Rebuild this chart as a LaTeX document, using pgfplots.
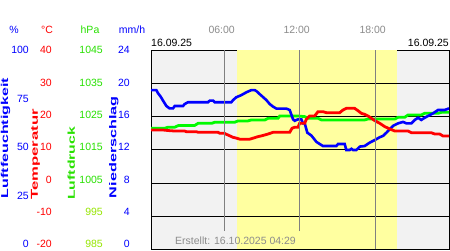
\documentclass[border=0pt]{standalone}
\usepackage{pgfplots}
\pgfplotsset{compat=1.18}
\usepackage{graphicx}
\usepackage{fontspec}
\setmainfont{Liberation Sans}
\definecolor{pgreen}{RGB}{40,225,0}
\definecolor{lgreen}{RGB}{0,250,0}
\definecolor{pyg}{RGB}{150,230,0}
\definecolor{bggray}{RGB}{242,242,242}
\definecolor{dayyel}{RGB}{255,255,160}
\definecolor{tgray}{RGB}{140,140,140}
\definecolor{lgray}{RGB}{128,128,128}
\newcommand{\lbl}{\fontsize{10.5}{12}\selectfont}
\newcommand{\rlbl}[2]{\scalebox{#1}[1]{\fontsize{10}{12}\selectfont\bfseries #2}}
\begin{document}
\begin{tikzpicture}[x=1pt,y=1pt]
\path[fill=white,use as bounding box] (0,0) rectangle (450,250);
% ---------- background, day band, frame (temperature units)
\begin{axis}[at={(151pt,0.7pt)},anchor=south west,width=298pt,height=199pt,scale only axis,
  xmin=0,xmax=24,ymin=-20,ymax=40,xtick=\empty,ytick=\empty,
  axis background/.style={fill=bggray},axis line style={black,line width=0.9pt}]
  \fill[dayyel] (axis cs:6.9,-20) rectangle (axis cs:19.79,40);
\end{axis}
% ---------- grid + pressure
\begin{axis}[at={(151pt,0.7pt)},anchor=south west,width=298pt,height=199pt,scale only axis,
  xmin=0,xmax=24,ymin=985,ymax=1045,xtick=\empty,ytick={995,1005,1015,1025,1035},
  yticklabels={},major tick length=0pt,ymajorgrids,grid style={black,line width=0.9pt},
  axis line style={draw=none}]
  \addplot[lgreen,line width=2.8pt] coordinates {
  (0,1021.5)(1.1,1021.5)(1.37,1021.8)(1.9,1021.8)(2.2,1022.3)(3.5,1022.3)(3.8,1023.0)
  (4.9,1023.0)(5.13,1023.3)(6.74,1023.3)(7.0,1023.7)(7.8,1023.7)(8.08,1024.0)(9.16,1024.0)
  (9.43,1024.5)(10.23,1024.5)(10.37,1025.2)(11.84,1025.2)(12.38,1025.0)(12.65,1024.5)
  (13.45,1024.5)(13.72,1024.0)(17.21,1024.0)(17.48,1024.3)(19.63,1024.3)(19.9,1024.8)
  (20.43,1024.8)(20.7,1025.5)(21.77,1025.5)(22.04,1026.0)(23.12,1026.0)(23.39,1026.3)(24,1026.3)};
\end{axis}
% ---------- humidity
\begin{axis}[at={(151pt,0.7pt)},anchor=south west,width=298pt,height=199pt,scale only axis,
  xmin=0,xmax=24,ymin=0,ymax=100,hide axis]
  \addplot[blue,line width=2.6pt] coordinates {
  (0,80)(0.43,80)(0.57,78.4)(0.78,76.7)(0.97,74.7)(1.24,72)(1.5,70.8)(1.77,70.8)(1.91,72)
  (2.58,72)(2.71,73)(2.98,73.9)(4.59,73.9)(4.73,74.7)(5.0,74.7)(5.13,73.9)(6.47,73.9)
  (6.61,75)(6.87,76.4)(7.28,77.5)(7.68,78.9)(8.08,80)(8.35,80)(8.49,79.5)(8.75,78)(9.02,76.5)
  (9.29,75)(9.56,73)(9.83,71.7)(10.1,70.7)(10.9,70.7)(11.17,70)(11.44,65.3)(11.57,64.6)
  (11.84,65.3)(12.11,65.3)(12.24,63.3)(12.38,63.3)(12.59,58.6)(12.91,57.2)(13.32,54)
  (13.59,52.9)(13.85,51.9)(14.93,51.9)(15.06,52.9)(15.6,52.9)(15.73,49.9)(16.0,49.9)
  (16.14,50.5)(16.27,49.9)(16.54,49.9)(16.81,51.6)(17.21,51.9)(17.61,53.6)(18.02,54.9)
  (18.42,56.3)(18.69,57)(18.96,58.6)(19.22,60.3)(19.49,62)(19.9,63.3)(20.3,64)(20.57,63.3)
  (20.97,63.3)(21.24,65)(21.51,66.1)(21.77,65)(22.04,66.1)(22.31,67)(22.71,68.3)(23.12,70)
  (23.65,70)(24,70.8)};
\end{axis}
% ---------- temperature + hour lines
\begin{axis}[at={(151pt,0.7pt)},anchor=south west,width=298pt,height=199pt,scale only axis,
  xmin=0,xmax=24,ymin=-20,ymax=40,hide axis]
  \addplot[red,line width=2.8pt] coordinates {
  (0,16.0)(0.9,16.0)(1.4,15.8)(1.9,15.67)(2.7,15.67)(2.85,15.46)(3.65,15.46)(3.8,15.27)
  (5.4,15.27)(5.55,14.97)(5.9,14.97)(6.2,14.46)(6.6,13.77)(6.9,13.5)(7.15,13.2)(7.95,13.2)
  (8.22,13.5)(8.6,13.95)(9.0,14.3)(9.43,14.76)(9.83,15.27)(11.17,15.27)(11.36,16.5)
  (11.57,16.8)(11.84,16.8)(11.97,18.0)(12.38,18.0)(12.51,19.2)(12.78,20.2)(13.18,20.2)
  (13.45,21.5)(13.85,21.5)(14.12,21.2)(15.2,21.2)(15.46,22.0)(15.73,22.5)(16.4,22.5)
  (16.67,21.8)(16.94,21.0)(17.21,20.7)(17.48,20.2)(17.75,19.5)(18.02,18.8)(18.42,18.0)
  (18.82,17.0)(19.22,16.3)(19.63,15.67)(20.7,15.67)(20.97,15.15)(22.58,15.15)(22.85,14.76)
  (23.25,14.76)(23.52,14.16)(24,14.16)};
  \draw[lgray,line width=1.1pt] (axis cs:5.9,-14.5) -- (axis cs:5.9,40);
  \draw[lgray,line width=1.1pt] (axis cs:11.95,-14.5) -- (axis cs:11.95,40);
  \draw[lgray,line width=1.1pt] (axis cs:18.05,-20) -- (axis cs:18.05,40);
\end{axis}
% ---------- tick label columns
\begin{axis}[at={(151pt,199.7pt)},anchor=north west,width=298pt,height=193.7pt,scale only axis,
  xmin=0,xmax=24,ymin=0,ymax=100,xtick=\empty,ytick={0,25,50,75,100},
  yticklabels={0,25,50,75,100},major tick length=0pt,axis line style={draw=none},
  yticklabel style={anchor=east,inner sep=0pt,xshift=-122pt,text=blue,font=\lbl}]
\end{axis}
\begin{axis}[at={(151pt,199.7pt)},anchor=north west,width=298pt,height=193.7pt,scale only axis,
  xmin=0,xmax=24,ymin=-20,ymax=40,xtick=\empty,ytick={-20,-10,0,10,20,30,40},
  yticklabels={-20,-10,0,10,20,30,40},major tick length=0pt,axis line style={draw=none},
  yticklabel style={anchor=east,inner sep=0pt,xshift=-99pt,text=red,font=\lbl}]
\end{axis}
\begin{axis}[at={(151pt,199.7pt)},anchor=north west,width=298pt,height=193.7pt,scale only axis,
  xmin=0,xmax=24,ymin=985,ymax=1045,xtick=\empty,ytick={985,995,1005,1015,1025,1035,1045},
  yticklabels={{\color{pyg}985},{\color{pyg}995},1005,1015,1025,1035,1045},major tick length=0pt,axis line style={draw=none},
  yticklabel style={anchor=east,inner sep=0pt,xshift=-48pt,text=pgreen,font=\lbl}]
\end{axis}
\begin{axis}[at={(151pt,199.7pt)},anchor=north west,width=298pt,height=193.7pt,scale only axis,
  xmin=0,xmax=24,ymin=0,ymax=24,xtick=\empty,ytick={0,4,8,12,16,20,24},
  yticklabels={0,4,8,12,16,20,24},major tick length=0pt,axis line style={draw=none},
  yticklabel style={anchor=east,inner sep=0pt,xshift=-21pt,text=blue,font=\lbl}]
\end{axis}
% ---------- texts
\node[blue,font=\lbl,inner sep=0pt] at (14,220) {\%};
\node[red,font=\lbl,inner sep=0pt] at (47,220) {°C};
\node[pgreen,font=\lbl,inner sep=0pt] at (90,220) {hPa};
\node[blue,font=\lbl,inner sep=0pt] at (132,220) {mm/h};
\node[tgray,font=\lbl,inner sep=0pt] at (221.7,220) {06:00};
\node[tgray,font=\lbl,inner sep=0pt] at (296.7,220) {12:00};
\node[tgray,font=\lbl,inner sep=0pt] at (372.7,220) {18:00};
\node[black,font=\lbl,inner sep=0pt,anchor=west] at (151,206.7) {16.09.25};
\node[black,font=\lbl,inner sep=0pt,anchor=east] at (449,206.7) {16.09.25};
\node[tgray,font=\lbl,inner sep=0pt,anchor=west] at (175,9.3) {Erstellt: 16.10.2025 04:29};
\node[blue,inner sep=0pt,rotate=90,anchor=west] at (5.5,51.7) {\rlbl{1.6}{Luftfeuchtigkeit}};
\node[red,inner sep=0pt,rotate=90,anchor=west] at (35.5,50) {\rlbl{1.67}{Temperatur}};
\node[pgreen,inner sep=0pt,rotate=90,anchor=west] at (71.3,50) {\rlbl{1.58}{Luftdruck}};
\node[blue,inner sep=0pt,rotate=90,anchor=west] at (113.7,51.7) {\rlbl{1.62}{Niederschlag}};
\end{tikzpicture}
\end{document}
